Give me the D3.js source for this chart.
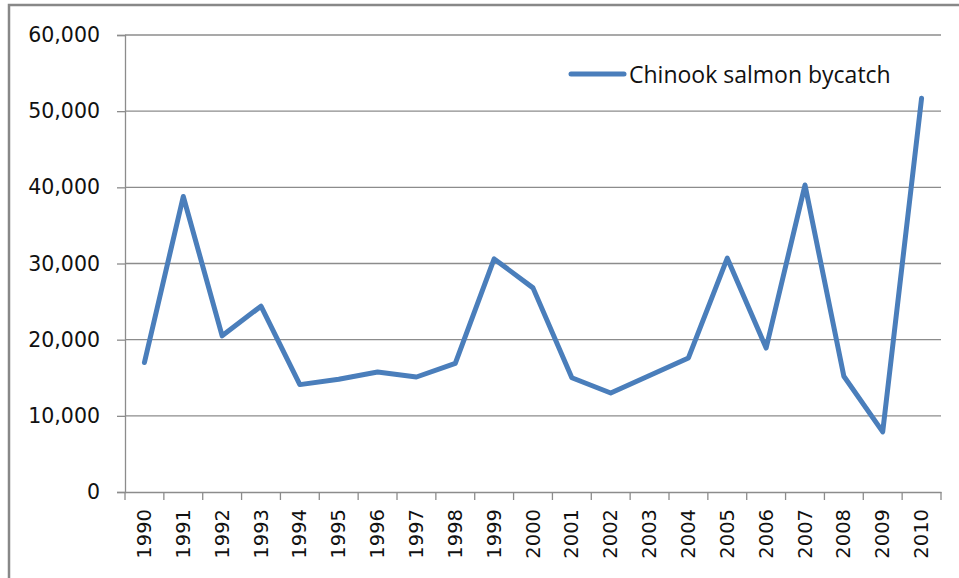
<!DOCTYPE html>
<html>
<head>
<meta charset="utf-8">
<script src="https://cdn.jsdelivr.net/npm/d3@7"></script>
<style>
  body { margin: 0; background: #fff; }
  svg { display: block; }
</style>
</head>
<body>
<div id="chart"></div>
<script>
// Chinook salmon bycatch per year
const years = ['1990', '1991', '1992', '1993', '1994', '1995', '1996', '1997', '1998', '1999', '2000',
               '2001', '2002', '2003', '2004', '2005', '2006', '2007', '2008', '2009', '2010'];
const bycatch = [17000, 38800, 20500, 24400, 14100, 14800, 15750, 15100, 16900, 30600, 26800,
                 15000, 13000, 15300, 17600, 30700, 18900, 40300, 15200, 7900, 51700];
const yTicks = [0, 10000, 20000, 30000, 40000, 50000, 60000];
const seriesName = 'Chinook salmon bycatch';

const width = 959;
const height = 578;
const margin = { top: 35, right: 18, bottom: 86, left: 125 };
const lineColor = '#4a7ebb';
const gridColor = '#8c8c8c';

const svg = d3.select('#chart').append('svg')
    .attr('width', width)
    .attr('height', height);

// outer chart border
svg.append('rect')
    .attr('x', 9)
    .attr('y', 5)
    .attr('width', width + 20)
    .attr('height', height + 20)
    .attr('fill', 'none')
    .attr('stroke', '#888')
    .attr('stroke-width', 2.5);

const x = d3.scaleBand()
    .domain(years)
    .range([margin.left, width - margin.right]);

const y = d3.scaleLinear()
    .domain([0, 60000])
    .range([height - margin.bottom, margin.top]);

// gridlines
svg.append('g')
    .selectAll('line')
    .data(yTicks.filter(d => d > 0))
    .join('line')
    .attr('x1', margin.left)
    .attr('x2', width - margin.right)
    .attr('y1', d => y(d))
    .attr('y2', d => y(d))
    .attr('stroke', gridColor)
    .attr('stroke-width', 1.3);

// y axis
const yAxis = svg.append('g')
    .attr('transform', `translate(${margin.left},0)`)
    .call(d3.axisLeft(y).tickValues(yTicks).tickSize(8).tickPadding(17)
        .tickFormat(d3.format(',')));

yAxis.selectAll('text')
    .attr('font-family', 'DejaVu Sans, Verdana, sans-serif')
    .attr('font-size', '20.5px')
    .attr('fill', '#111');

// x axis, ticks at category boundaries
const xAxis = svg.append('g')
    .attr('transform', `translate(0,${y(0)})`)
    .call(d3.axisBottom(x).tickSize(0).tickPadding(0));

xAxis.selectAll('.tick text')
    .attr('transform', 'rotate(-90)')
    .attr('text-anchor', 'end')
    .attr('dominant-baseline', 'central')
    .attr('x', -17)
    .attr('y', 0)
    .attr('dy', null)
    .attr('font-family', 'DejaVu Sans, Verdana, sans-serif')
    .attr('font-size', '19.5px')
    .attr('fill', '#111');

xAxis.append('g')
    .selectAll('line')
    .data(years.concat(['end']))
    .join('line')
    .attr('x1', (d, i) => margin.left + i * x.step())
    .attr('x2', (d, i) => margin.left + i * x.step())
    .attr('y1', 0)
    .attr('y2', 8)
    .attr('stroke', gridColor)
    .attr('stroke-width', 1.3);

svg.selectAll('.domain')
    .attr('stroke', gridColor)
    .attr('stroke-width', 1.3);
svg.selectAll('.tick line')
    .attr('stroke', gridColor)
    .attr('stroke-width', 1.3);

// the series line
const line = d3.line()
    .x((d, i) => x(years[i]) + x.bandwidth() / 2)
    .y(d => y(d));

svg.append('path')
    .datum(bycatch)
    .attr('d', line)
    .attr('fill', 'none')
    .attr('stroke', lineColor)
    .attr('stroke-width', 5)
    .attr('stroke-linejoin', 'round')
    .attr('stroke-linecap', 'round');

// legend
const legend = svg.append('g')
    .attr('transform', 'translate(571,74)');

legend.append('line')
    .attr('x1', 0)
    .attr('x2', 53)
    .attr('stroke', lineColor)
    .attr('stroke-width', 5)
    .attr('stroke-linecap', 'round');

legend.append('text')
    .attr('x', 58)
    .attr('y', 0)
    .attr('dominant-baseline', 'central')
    .attr('font-family', 'Open Sans, sans-serif')
    .attr('font-size', '23px')
    .attr('fill', '#111')
    .text(seriesName);
</script>
</body>
</html>
